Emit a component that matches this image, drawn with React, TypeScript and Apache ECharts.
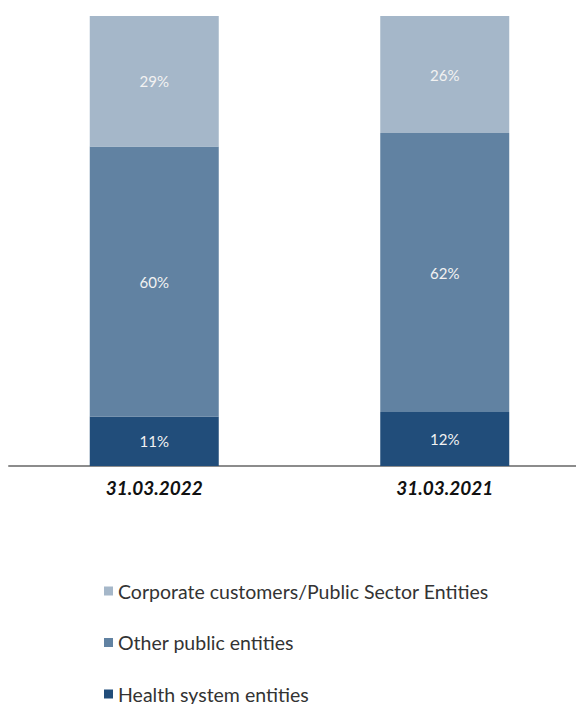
import React, { useEffect, useRef } from "react";
import * as echarts from "echarts";

const categories = ["31.03.2022", "31.03.2021"];
const healthSystem = [11, 12];
const otherPublic = [60, 62];
const corporate = [29, 26];
const seriesNames = [
  "Health system entities",
  "Other public entities",
  "Corporate customers/Public Sector Entities",
];
const colors = ["#214D7A", "#6182A2", "#A5B7C9"];

export default function App() {
  const ref = useRef<HTMLDivElement>(null);
  useEffect(() => {
    if (!ref.current) return;
    const chart = echarts.init(ref.current, undefined, { renderer: "svg" });
    const font = "Lato, 'Open Sans', sans-serif";
    const label = {
      show: true,
      position: "inside",
      color: "#F2F2F2",
      fontSize: 15,
      fontFamily: font,
      formatter: (p: any) => p.value + "%",
    };
    const datasets = [healthSystem, otherPublic, corporate];
    chart.setOption({
      animation: false,
      grid: { left: 9, top: 16, width: 581, height: 450, containLabel: false },
      xAxis: {
        type: "category",
        data: categories,
        axisLine: { show: true, lineStyle: { color: "#8C8C8C", width: 2 } },
        axisTick: { show: false },
        axisLabel: {
          margin: 12,
          fontSize: 19,
          fontWeight: "bold",
          fontStyle: "italic",
          color: "#111",
          fontFamily: font,
        },
      },
      yAxis: { type: "value", min: 0, max: 100, show: false },
      legend: {
        orient: "vertical",
        left: 104,
        top: 581,
        height: 130,
        padding: 0,
        itemWidth: 9,
        itemHeight: 9,
        itemGap: 31.5,
        icon: "rect",
        data: [seriesNames[2], seriesNames[1], seriesNames[0]],
        textStyle: { fontSize: 19.5, lineHeight: 20, color: "#333", fontFamily: font },
      },
      series: datasets.map((d, i) => ({
        name: seriesNames[i],
        type: "bar",
        stack: "total",
        data: d,
        barWidth: 129,
        itemStyle: { color: colors[i] },
        label,
      })),
    });
    return () => chart.dispose();
  }, []);
  return (
    <div
      ref={ref}
      style={{ position: "fixed", left: 0, top: 0, width: 600, height: 704, background: "#fff" }}
    />
  );
}
